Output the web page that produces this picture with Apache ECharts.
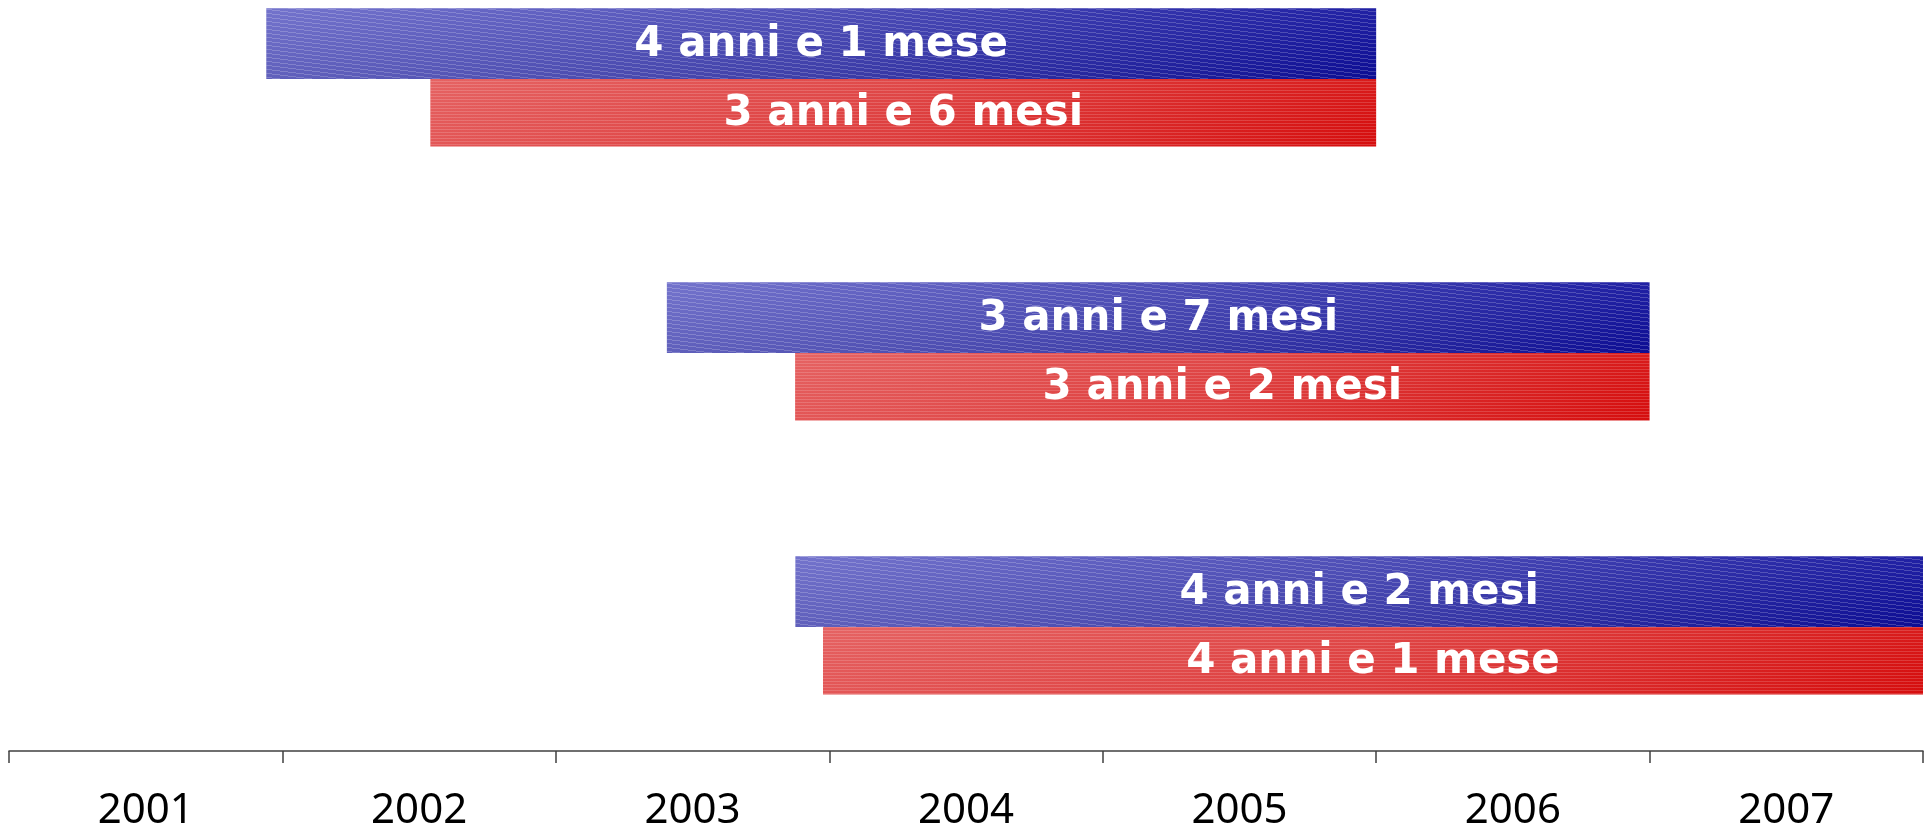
<!DOCTYPE html>
<html>
<head>
<meta charset="utf-8">
<style>
  html, body { margin: 0; padding: 0; background: #ffffff; }
  #chart { width: 1929px; height: 833px; }
</style>
<script src="https://cdn.jsdelivr.net/npm/echarts@6/dist/echarts.min.js"></script>
</head>
<body>
<div id="chart"></div>
<script>
// ---- data ----
const years = ['2001', '2002', '2003', '2004', '2005', '2006', '2007'];
const groups = ['g1', 'g2', 'g3'];

const blueStart = [2001.941, 2003.406, 2003.876];
const blueEnd   = [2006.0, 2007.0, 2008.0];
const blueLabel = ['4 anni e 1 mese', '3 anni e 7 mesi', '4 anni e 2 mesi'];

const redStart = [2002.541, 2003.875, 2003.977];
const redEnd   = [2006.0, 2007.0, 2008.0];
const redLabel = ['3 anni e 6 mesi', '3 anni e 2 mesi', '4 anni e 1 mese'];

// ---- stripe textures ----
function makeStripe(slanted, alpha) {
  const c = document.createElement('canvas');
  const w = slanted ? 32 : 4, h = slanted ? 4 : 3;
  c.width = w; c.height = h;
  const ctx = c.getContext('2d');
  ctx.fillStyle = 'rgba(255,255,255,' + alpha + ')';
  for (let x = 0; x < w; x++) {
    const y = slanted ? Math.floor(x * h / w) : 0;
    ctx.fillRect(x, y, 1, 1);
  }
  return c;
}
const blueStripe = makeStripe(true, 0.2);
const redStripe = makeStripe(false, 0.16);

function makeData(starts, ends, labels) {
  return starts.map((s, i) => [s, ends[i], i, labels[i]]);
}

function renderer(isBlue) {
  return function (params, api) {
    const s = api.coord([api.value(0), api.value(2)]);
    const e = api.coord([api.value(1), api.value(2)]);
    const h = isBlue ? 70.7 : 67.5;
    const y = isBlue ? s[1] - h : s[1];
    const x = s[0];
    const w = e[0] - s[0];
    const grad = isBlue
      ? new echarts.graphic.LinearGradient(0, 0, 1, 0, [
          { offset: 0, color: '#6868c8' },
          { offset: 0.5, color: '#4242b2' },
          { offset: 1, color: '#0e0e9c' }])
      : new echarts.graphic.LinearGradient(0, 0, 1, 0, [
          { offset: 0, color: '#e45a5a' },
          { offset: 0.5, color: '#de3e3e' },
          { offset: 1, color: '#d60e0e' }]);
    const vshade = isBlue
      ? new echarts.graphic.LinearGradient(0, 0, 0, 1, [
          { offset: 0, color: 'rgba(255,255,255,0.08)' },
          { offset: 1, color: 'rgba(0,0,40,0.08)' }])
      : new echarts.graphic.LinearGradient(0, 0, 0, 1, [
          { offset: 0, color: 'rgba(255,255,255,0.06)' },
          { offset: 1, color: 'rgba(200,0,0,0.04)' }]);
    return {
      type: 'group',
      children: [
        { type: 'rect', shape: { x: x, y: y, width: w, height: h }, style: { fill: grad } },
        { type: 'rect', shape: { x: x, y: y, width: w, height: h }, style: { fill: vshade } },
        { type: 'rect', shape: { x: x, y: y, width: w, height: h },
          style: { fill: { image: isBlue ? blueStripe : redStripe, repeat: 'repeat' } } },
        { type: 'text', style: {
            text: api.value(3), x: x + w / 2, y: y + h / 2 + 1,
            fill: '#ffffff', font: 'bold 42px "DejaVu Sans"',
            align: 'center', verticalAlign: 'middle' } }
      ]
    };
  };
}

const chart = echarts.init(document.getElementById('chart'), null, { renderer: 'canvas' });
chart.setOption({
  animation: false,
  backgroundColor: '#ffffff',
  grid: { left: 9, right: 6, top: 79, bottom: 206, outerBoundsMode: 'none', containLabel: false },
  xAxis: [
    {
      type: 'category', data: years, position: 'bottom', offset: 124,
      boundaryGap: true,
      axisLine: { show: true, lineStyle: { color: '#404040', width: 1.5 } },
      axisTick: { show: true, length: 12, lineStyle: { color: '#404040', width: 1.5 } },
      axisLabel: { show: true, margin: 60, verticalAlign: 'middle', color: '#000000',
                   fontFamily: 'Noto Sans', fontSize: 42 },
      splitLine: { show: false }
    },
    {
      type: 'value', min: 2001, max: 2008, show: false, splitLine: { show: false }
    }
  ],
  yAxis: {
    type: 'category', data: groups, inverse: true, boundaryGap: false, show: false
  },
  series: [
    {
      type: 'custom', xAxisIndex: 1, yAxisIndex: 0,
      renderItem: renderer(false),
      encode: { x: [0, 1], y: 2 },
      data: makeData(redStart, redEnd, redLabel)
    },
    {
      type: 'custom', xAxisIndex: 1, yAxisIndex: 0,
      renderItem: renderer(true),
      encode: { x: [0, 1], y: 2 },
      data: makeData(blueStart, blueEnd, blueLabel)
    }
  ]
});
</script>
</body>
</html>
